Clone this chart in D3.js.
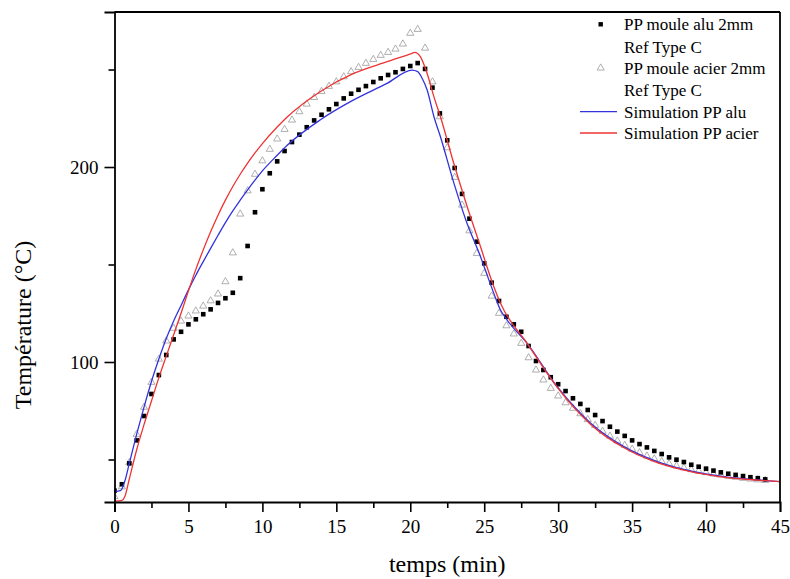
<!DOCTYPE html>
<html>
<head>
<meta charset="utf-8">
<script src="https://d3js.org/d3.v7.min.js"></script>
<style>
html,body{margin:0;padding:0;background:#fff;}
svg{display:block;font-family:"Liberation Serif","Times New Roman",serif;}
</style>
</head>
<body>
<svg id="chart" width="790" height="579"></svg>
<script>
// ---- Data ----
const xTicks = [0,5,10,15,20,25,30,35,40,45];
const yTicks = [100,200];
const yMinorTicks = [50,150,250];
const seriesNames = ["PP moule alu 2mm","Ref Type C","PP moule acier 2mm","Ref Type C","Simulation PP alu","Simulation PP acier"];

// Measured: PP moule alu (black squares), t every 0.5 min
const aluTime = d3.range(0, 44.01, 0.5);
const aluTemp = [34,37.3,48,59.8,72.3,83.6,93.3,103.6,111.6,115.5,119.3,121.9,124.5,127,130.3,132.7,135.5,143,159.5,176.8,
 188.6,196.8,202.9,208.2,212.8,216.6,220.4,223.9,226.8,229.6,232.3,235.2,237.6,239.6,241.5,243.6,245.5,247.2,248.6,250.3,
 251.8,253.3,250.3,240.7,227.5,213.7,199.5,186.2,173.5,161.7,150.6,140.7,131.3,123.2,119.3,115.5,108.2,100.5,95.9,92.2,
 88.6,85.1,81.4,78.5,75.4,72.8,69.7,66.8,64.3,62.1,59.8,57.9,56.2,54.4,52.8,51.1,49.9,48.7,47.3,46.3,
 45.3,44.3,43.4,42.7,42.1,41.5,40.9,40.4,39.8];

// Measured: PP moule acier (grey triangles)
const acierTime = d3.range(0, 44.01, 0.5);
const acierTemp = [31,36,48.4,62.9,76.8,89.6,101.5,110.8,117.3,121,123.6,126.2,128.7,131.4,134.9,141.2,156,175.9,187.8,196.3,
 203.2,209.1,214.4,219.3,224.1,228.4,232.3,235.7,238.8,241.4,243.7,246.3,248.9,251.1,253.2,255.2,257.3,258.8,260.5,263.1,
 268.6,270.6,261,243.7,225.8,209.9,194.7,180.5,167.3,155.7,145.5,133.8,125,118.6,114.4,109.6,102.2,95.9,90.8,86.5,
 82.6,79.1,76.3,73.5,70.5,67.5,64.5,62,59.5,57.3,55.3,53.5,51.8,50.3,49,47.8,46.7,45.7,44.8,44,
 43.3,42.6,42,41.4,40.9,40.4,40,39.6,39.3];

// Simulation PP alu (blue line)
const simAluTime = [0,0.4,0.7,1.0,1.5,2.0,2.5,3.0,3.5,4.0,4.5,5.0,5.5,6.0,6.5,7.0,7.5,8.0,8.5,9.0,9.5,10,11,11.66,13.9,16.17,18.43,20.12,20.5,20.8,21.14,21.6,22.04,22.94,23.75,24.75,25.65,26.1,26.55,27.9,29.94,32.2,34.45,36.7,38.96,41.2,43.5,45];
const simAluTemp = [33.5,34,39,48,63,77,90,101.5,112,121,129,137,144.5,151.5,158.3,165,171.5,177.5,183,188.3,193.3,198,206,211,224.1,234.4,242.9,249.7,248.9,245.5,239.5,225.8,215.5,192,173,154,135.2,126.7,121.5,109.6,87.3,68.6,56.6,48.9,44.1,41.2,39.5,38.6];

// Simulation PP acier (red line)
const simAcierTime = [0,0.5,0.7,1.0,1.5,2.0,2.5,3.0,3.5,4.0,4.5,5.0,5.5,6.0,6.5,7.0,7.5,8.0,8.5,9.0,9.5,10,11,11.66,13.9,16.17,18.43,20.12,20.3,20.68,21.14,21.6,22.04,22.94,23.85,24.75,25.65,26.1,27.9,29.94,32.2,34.45,36.7,38.96,41.2,43.5,45];
const simAcierTemp = [28.6,29,31,40,55,68,80,92,103,114,125,136.5,147.5,157.5,166.8,175.3,183,190,196.3,202,207.2,212,220.5,225.5,238.6,248,254,258.3,258.8,256.6,248,236,225.8,201.9,179.6,159.1,138.6,130.1,109.6,87.0,68.0,56.0,48.4,43.8,41.0,39.4,38.6];

// ---- Layout ----
const svg = d3.select("#chart");
const L = 114.5, R = 780, T = 12, B = 502;
const x = d3.scaleLinear().domain([0,45]).range([L,R]);
const y = d3.scaleLinear().domain([28.2,279.5]).range([B,T]);

const g = svg.append("g");

const line = d3.line().x(d=>x(d[0])).y(d=>y(d[1])).curve(d3.curveMonotoneX);
svg.append("defs").append("clipPath").attr("id","clip")
  .append("rect").attr("x",L).attr("y",T).attr("width",R-L).attr("height",B-T);

const plot = g.append("g").attr("clip-path","url(#clip)");

// triangles
const triPath = d3.symbol().type(d3.symbolTriangle).size(22);
plot.selectAll("path.tri").data(acierTime.map((t,i)=>[t,acierTemp[i]])).join("path")
  .attr("class","tri").attr("d",triPath)
  .attr("transform",d=>`translate(${x(d[0])},${y(d[1])})`)
  .attr("fill","none").attr("stroke","#9a9a9a").attr("stroke-width",0.8);

// squares
plot.selectAll("rect.sq").data(aluTime.map((t,i)=>[t,aluTemp[i]])).join("rect")
  .attr("class","sq")
  .attr("x",d=>x(d[0])-2.3).attr("y",d=>y(d[1])-2.3)
  .attr("width",4.6).attr("height",4.6).attr("fill","#000");

plot.append("path").datum(simAluTime.map((t,i)=>[t,simAluTemp[i]]))
  .attr("d",line).attr("fill","none").attr("stroke","#3333dd").attr("stroke-width",1.3);
plot.append("path").datum(simAcierTime.map((t,i)=>[t,simAcierTemp[i]]))
  .attr("d",line).attr("fill","none").attr("stroke","#ee3333").attr("stroke-width",1.3);

// axes
const xAxis = d3.axisBottom(x).tickValues(xTicks).tickSize(10).tickPadding(8).tickFormat(d3.format("d"));
const gx = g.append("g").attr("transform",`translate(0,${B})`).call(xAxis);
gx.selectAll("text").attr("font-size",19).attr("fill","#000").attr("font-family","Liberation Serif");
const xMinor = d3.axisBottom(x).tickValues(d3.range(2.5,45,5)).tickSize(6).tickFormat("");
g.append("g").attr("transform",`translate(0,${B})`).call(xMinor).select(".domain").remove();

const yAxis = d3.axisLeft(y).tickValues(yTicks).tickSize(10).tickPadding(6).tickFormat(d3.format("d"));
const gy = g.append("g").attr("transform",`translate(${L},0)`).call(yAxis);
gy.selectAll("text").attr("font-size",19).attr("fill","#000").attr("font-family","Liberation Serif");
const yMinor = d3.axisLeft(y).tickValues(yMinorTicks).tickSize(6).tickFormat("");
g.append("g").attr("transform",`translate(${L},0)`).call(yMinor).select(".domain").remove();

g.selectAll(".tick line").attr("stroke","#000").attr("stroke-width",1.6);
g.selectAll(".domain").attr("stroke","#000").attr("stroke-width",1.8);

// frame top/right
g.append("line").attr("x1",L).attr("x2",R).attr("y1",T).attr("y2",T).attr("stroke","#000").attr("stroke-width",1.8);
g.append("line").attr("x1",R).attr("x2",R).attr("y1",T).attr("y2",B).attr("stroke","#000").attr("stroke-width",1.8);

// axis titles
svg.append("text").attr("x",(L+R)/2).attr("y",572).attr("text-anchor","middle")
  .attr("font-size",24).text("temps (min)");
svg.append("text").attr("transform",`translate(31,${(T+B)/2+68}) rotate(-90)`).attr("text-anchor","middle")
  .attr("font-size",24).text("Température (°C)");

// legend
const legY = [24.3,46.7,68,90,111.7,133];
const leg = svg.append("g");
seriesNames.forEach((name,i)=>{
  leg.append("text").attr("x",624).attr("y",legY[i]+6).attr("font-size",17).text(name);
});
leg.append("rect").attr("x",600.7-2.2).attr("y",legY[0]-2.2).attr("width",4.4).attr("height",4.4).attr("fill","#000");
leg.append("path").attr("d",triPath).attr("transform",`translate(600.7,${legY[2]})`)
  .attr("fill","none").attr("stroke","#9a9a9a").attr("stroke-width",0.8);
leg.append("line").attr("x1",580).attr("x2",617).attr("y1",legY[4]).attr("y2",legY[4]).attr("stroke","#3333dd").attr("stroke-width",1.3);
leg.append("line").attr("x1",580).attr("x2",617).attr("y1",legY[5]).attr("y2",legY[5]).attr("stroke","#ee3333").attr("stroke-width",1.3);
</script>
</body>
</html>
